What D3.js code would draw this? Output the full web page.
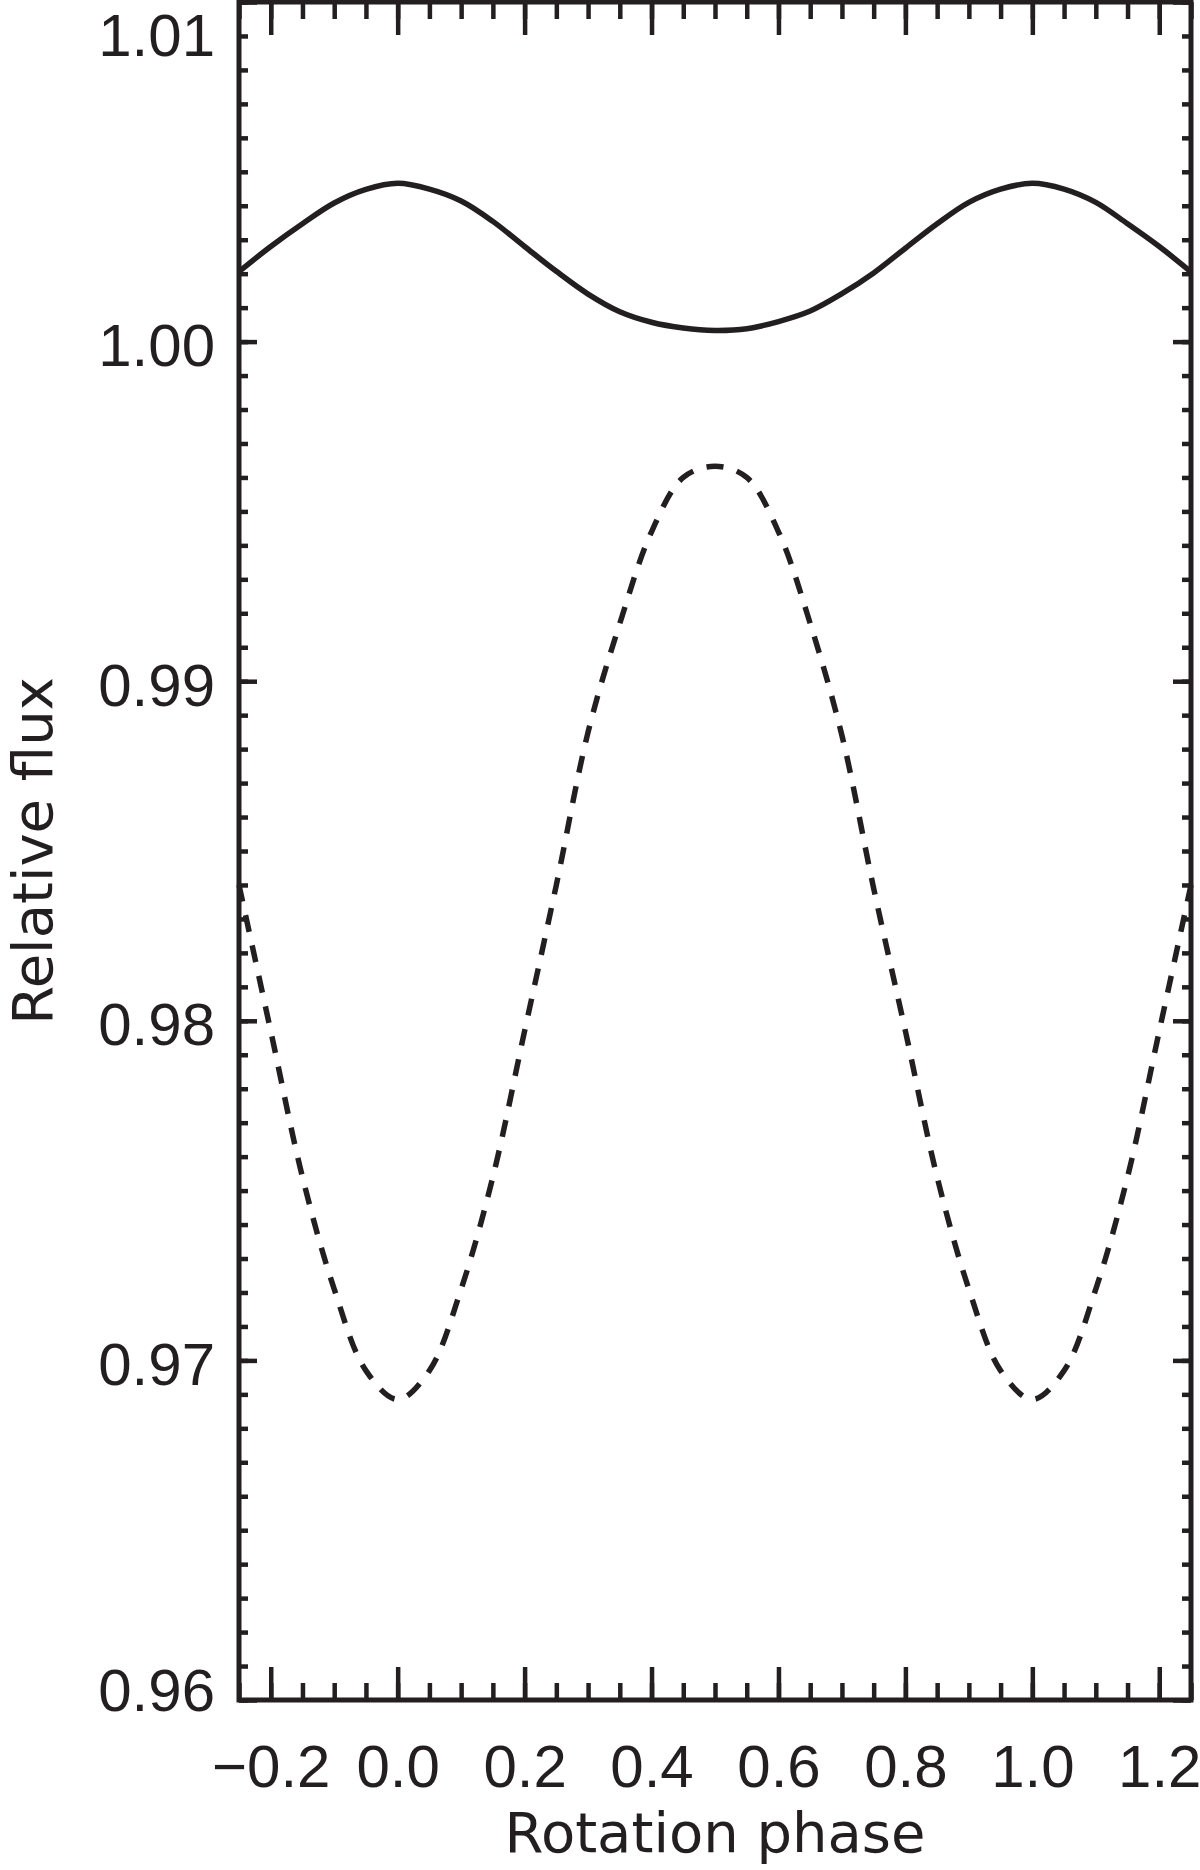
<!DOCTYPE html>
<html>
<head>
<meta charset="utf-8">
<script src="https://cdn.jsdelivr.net/npm/d3@7"></script>
<style>
  html, body { margin: 0; padding: 0; background: #fff; }
  svg { display: block; }
  text { font-family: "Liberation Sans", Arial, sans-serif; fill: #231f20; }
  text.title { font-family: "DejaVu Sans", sans-serif; }
</style>
</head>
<body>
<svg id="chart" width="1200" height="1870"></svg>
<script>
// ---- data ----
const phase = [-0.25, -0.2, -0.15, -0.1, -0.05, 0.0, 0.05, 0.1, 0.15, 0.2, 0.25, 0.3, 0.35, 0.4, 0.45, 0.5,
               0.55, 0.6, 0.65, 0.7, 0.75, 0.8, 0.85, 0.9, 0.95, 1.0, 1.05, 1.1, 1.15, 1.2, 1.25];
const fluxSolid = [1.00206, 1.00280, 1.00347, 1.00408, 1.00448, 1.00466, 1.00449, 1.00414, 1.00354, 1.00280,
                   1.00207, 1.00140, 1.00088, 1.00057, 1.00040, 1.00033, 1.00038, 1.00059, 1.00090, 1.00141,
                   1.00202, 1.00275, 1.00347, 1.00410, 1.00449, 1.00466, 1.00449, 1.00410, 1.00347, 1.00280, 1.00205];
const fluxDashed = [0.9840, 0.9797, 0.9754, 0.9721, 0.9697, 0.96885, 0.9697, 0.9721, 0.9754, 0.9797,
                    0.9840, 0.9885, 0.9917, 0.9944, 0.9960, 0.99633, 0.9960, 0.9944, 0.9917, 0.9884,
                    0.9839, 0.9797, 0.9754, 0.9721, 0.9697, 0.96885, 0.9697, 0.9721, 0.9754, 0.9797, 0.9840];
const xMajorTicks = [-0.2, 0.0, 0.2, 0.4, 0.6, 0.8, 1.0, 1.2];
const yMajorTicks = [0.96, 0.97, 0.98, 0.99, 1.00, 1.01];
const xDomain = [-0.25, 1.25];
const yDomain = [0.96, 1.01];
const xTitle = "Rotation phase";
const yTitle = "Relative flux";

// ---- layout ----
const L = 239, R = 1191, T = 2, B = 1700;
const ink = "#231f20";
const svg = d3.select("#chart");

const x = d3.scaleLinear().domain(xDomain).range([L, R]);
const y = d3.scaleLinear().domain(yDomain).range([B, T]);

const xMinor = d3.range(-0.25, 1.2501, 0.05).map(v => +v.toFixed(2));
const yMinor = d3.range(0.96, 1.01001, 0.001).map(v => +v.toFixed(3));

function styleAxis(g, w) {
  g.select(".domain").remove();
  g.selectAll(".tick line").attr("stroke", ink).attr("stroke-width", w);
}

// minor ticks
svg.append("g").attr("transform", `translate(0,${B})`)
  .call(d3.axisBottom(x).tickValues(xMinor).tickSize(-17).tickFormat(""))
  .call(g => styleAxis(g, 4.5));
svg.append("g").attr("transform", `translate(0,${T})`)
  .call(d3.axisTop(x).tickValues(xMinor).tickSize(-17).tickFormat(""))
  .call(g => styleAxis(g, 4.5));
svg.append("g").attr("transform", `translate(${L},0)`)
  .call(d3.axisLeft(y).tickValues(yMinor).tickSize(-9).tickFormat(""))
  .call(g => styleAxis(g, 4.5));
svg.append("g").attr("transform", `translate(${R},0)`)
  .call(d3.axisRight(y).tickValues(yMinor).tickSize(-9).tickFormat(""))
  .call(g => styleAxis(g, 4.5));

// major ticks + labels
const gx = svg.append("g").attr("transform", `translate(0,${B})`)
  .call(d3.axisBottom(x).tickValues(xMajorTicks).tickSize(-33).tickPadding(44).tickFormat(d3.format(".1f")))
  .call(g => styleAxis(g, 4.5));
gx.selectAll("text").attr("font-size", 60).attr("fill", ink);

svg.append("g").attr("transform", `translate(0,${T})`)
  .call(d3.axisTop(x).tickValues(xMajorTicks).tickSize(-33).tickFormat(""))
  .call(g => styleAxis(g, 4.5));

const gy = svg.append("g").attr("transform", `translate(${L},0)`)
  .call(d3.axisLeft(y).tickValues(yMajorTicks).tickSize(-18).tickPadding(24).tickFormat(d3.format(".2f")))
  .call(g => styleAxis(g, 4.5));
gy.selectAll("text").attr("font-size", 60).attr("fill", ink).attr("dy", "0.4em");
// IDL-style: edge labels pulled inside the figure
gy.selectAll(".tick").filter(d => d === 1.01).select("text").attr("dy", 0).attr("y", 53);
gy.selectAll(".tick").filter(d => d === 0.96).select("text").attr("dy", 0).attr("y", 10);

svg.append("g").attr("transform", `translate(${R},0)`)
  .call(d3.axisRight(y).tickValues(yMajorTicks).tickSize(-18).tickFormat(""))
  .call(g => styleAxis(g, 4.5));

// curves
const line = d3.line().x(d => x(d[0])).y(d => y(d[1])).curve(d3.curveCatmullRom.alpha(0.5));
const plotG = svg.append("g");
plotG.append("path")
  .datum(phase.map((p, i) => [p, fluxSolid[i]]))
  .attr("d", line).attr("fill", "none").attr("stroke", ink).attr("stroke-width", 5.5);
plotG.append("path")
  .datum(phase.map((p, i) => [p, fluxDashed[i]]))
  .attr("d", line).attr("fill", "none").attr("stroke", ink).attr("stroke-width", 5.5)
  .attr("stroke-dasharray", "17,14");

// frame
svg.append("rect").attr("x", L).attr("y", T).attr("width", R - L).attr("height", B - T)
  .attr("fill", "none").attr("stroke", ink).attr("stroke-width", 5);

// axis titles
svg.append("text").attr("class", "title").attr("x", (L + R) / 2).attr("y", 1852).attr("text-anchor", "middle")
  .attr("font-size", 56).text(xTitle);
svg.append("text").attr("class", "title").attr("transform", `translate(52,${(T + B) / 2}) rotate(-90)`)
  .attr("text-anchor", "middle").attr("font-size", 56).text(yTitle);
</script>
</body>
</html>
